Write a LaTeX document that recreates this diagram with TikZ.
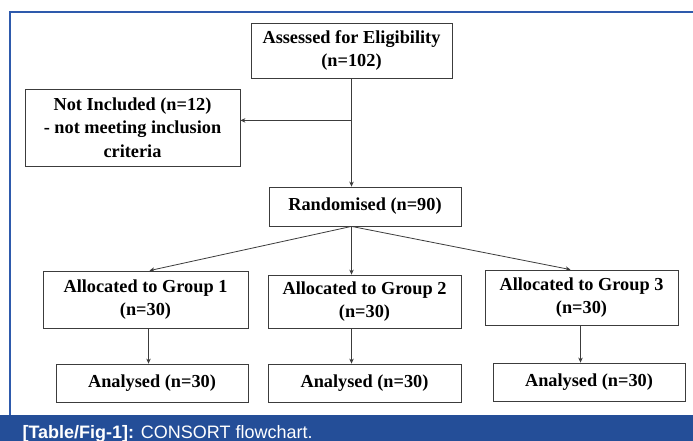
\documentclass[tikz,border=0pt]{standalone}
\usepackage{fontspec}
\setmainfont{Liberation Serif}
\setsansfont{Liberation Sans}
\usepackage{xcolor}
\definecolor{frameblue}{RGB}{46,90,172}
\definecolor{barblue}{RGB}{36,78,152}
\definecolor{linegray}{RGB}{60,60,60}
\usetikzlibrary{arrows.meta,calc}
\tikzset{
  box/.style={draw=linegray,line width=0.8pt,fill=white,align=center,inner sep=2pt,
    font=\fontsize{18.3}{23.5}\selectfont\bfseries},
  arr/.style={draw=linegray,line width=0.8pt,-{Stealth[length=5pt,width=4.5pt]}}
}

\begin{document}
\begin{tikzpicture}[x=1pt,y=-1pt]
\useasboundingbox (0,0) rectangle (693,441);
% frame and caption bar
\fill[white] (0,0) rectangle (693,441);
\draw[frameblue,line width=1.2pt] (10,415) -- (10,12) -- (693,12);
\fill[barblue] (0,415) rectangle (693,441);
\node[anchor=base west,text=white,font=\sffamily\fontsize{18}{20}\selectfont] (cap) at (19,438)
  {\textbf{[Table/Fig-1]:} CONSORT flowchart.};

% boxes
\node[box,minimum width=201pt,minimum height=55pt] (assess) at (351.5,50.5)
  {Assessed for Eligibility\\(n=102)};
\node[box,minimum width=215pt,minimum height=77pt] (excl) at (132.5,127.5)
  {Not Included (n=12)\\- not meeting inclusion\\criteria};
\node[box,minimum width=192pt,minimum height=39pt] (rand) at (365,206.5)
  {Randomised (n=90)};
\node[box,minimum width=205pt,minimum height=57pt] (g1) at (145.5,299.5)
  {Allocated to Group 1\\(n=30)};
\node[box,minimum width=193pt,minimum height=53pt] (g2) at (364.5,301.5)
  {Allocated to Group 2\\(n=30)};
\node[box,minimum width=193pt,minimum height=55pt] (g3) at (581.5,297.5)
  {Allocated to Group 3\\(n=30)};
\node[box,minimum width=192pt,minimum height=38pt] (an1) at (152,383) {Analysed (n=30)};
\node[box,minimum width=193pt,minimum height=38pt] (an2) at (364.5,383) {Analysed (n=30)};
\node[box,minimum width=192pt,minimum height=38pt] (an3) at (589,382) {Analysed (n=30)};

% connectors
\coordinate (branch) at ($(assess.south)+(0,42)$);
\coordinate (split) at (assess.south |- rand.south);
\draw[arr] (assess.south) -- (assess.south |- rand.north);
\draw[arr] (branch) -- (branch -| excl.east);
\draw[arr] (split) -- ([xshift=4pt]g1.north);
\draw[arr] (split) -- (split |- g2.north);
\draw[arr] (split) -- ([xshift=-11pt]g3.north);
\draw[arr] ([xshift=3pt]g1.south) -- ([xshift=3pt]g1.south |- an1.north);
\draw[arr] (split |- g2.south) -- (split |- an2.north);
\draw[arr] ([xshift=-1pt]g3.south) -- ([xshift=-1pt]g3.south |- an3.north);
\end{tikzpicture}
\end{document}
